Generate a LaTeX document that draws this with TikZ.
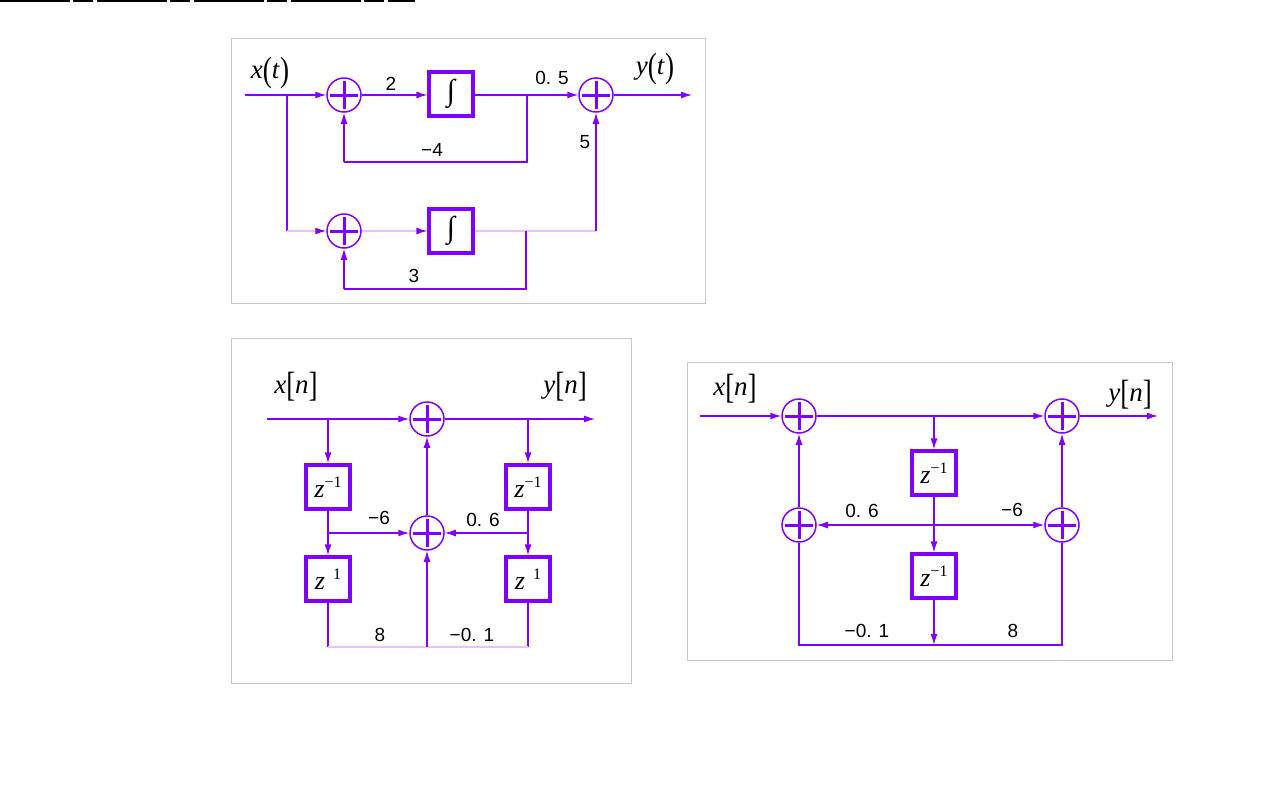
\documentclass[tikz,border=0pt]{standalone}
\usepackage{fontspec}
\setsansfont{Liberation Sans}
\newfontfamily\tms{Liberation Serif}
\usetikzlibrary{arrows.meta}
\definecolor{vio}{RGB}{128,0,255}
\definecolor{faintvio}{RGB}{238,190,255}
\definecolor{framegray}{RGB}{200,200,200}
\newcommand{\intg}{{\tms\fontsize{30}{30}\selectfont ∫}}
\newcommand{\tallbr}[1]{\raisebox{-3pt}{\scalebox{1}[1.3]{#1}}}
\newcommand{\zinv}{\textit{z}\raisebox{10pt}{\fontsize{16}{16}\selectfont −1}}
\newcommand{\zone}{\textit{z}\hspace{8pt}\raisebox{10pt}{\fontsize{16}{16}\selectfont 1}}
\tikzset{
  sig/.style={draw=vio, line width=1.3pt},
  faint/.style={draw=faintvio, line width=1.3pt},
  arr/.style={-{Latex[length=11pt,width=7pt,color=vio]}},
  adder/.style={circle, draw=vio, line width=1.5pt, minimum size=34pt, inner sep=0pt,
    path picture={\draw[vio, line width=3pt] (-14pt,0)--(14pt,0) (0,-14pt)--(0,14pt);}},
  blk/.style={draw=vio, line width=3.2pt, minimum width=44pt, minimum height=44pt, inner sep=0pt},
  num/.style={font=\sffamily\fontsize{19}{19}\selectfont},
  var/.style={font=\tms\fontsize{27}{27}\selectfont},
  zz/.style={font=\tms\fontsize{26}{26}\selectfont},
  panel/.style={draw=framegray, line width=1pt}
}
\begin{document}
\begin{tikzpicture}[x=1pt,y=-1pt]
\useasboundingbox (0,0) rectangle (1280,800);
\draw[black, line width=1.5pt, dash pattern=on 70pt off 3pt on 20pt off 4pt] (0,0.8) -- (415,0.8);
% frames
\draw[panel] (231,39) rectangle (705,303);
\draw[panel] (231,338) rectangle (631,683);
\draw[panel] (687,362) rectangle (1172,660);

% continuous system
\node[adder] (s1) at (344,95) {};
\node[blk] (i1) at (451,94) {\intg};
\node[adder] (s2) at (596,95) {};
\node[adder] (s3) at (344,231) {};
\node[blk] (i2) at (451,231) {\intg};
\coordinate (in1) at (245,95);
\coordinate (b1) at (287,95);
\coordinate (b1d) at (287,231);
\coordinate (f1) at (527,95);
\coordinate (f1d) at (527,162);
\coordinate (f1l) at (344,162);
\coordinate (out1) at (692,95);
\coordinate (g2) at (526,231);
\coordinate (g2d) at (526,289);
\coordinate (g2l) at (344,289);
\coordinate (h2) at (596,231);
\draw[sig] (in1) -- (b1);
\draw[sig,arr] (b1) -- (s1);
\draw[sig,arr] (s1) -- (s1 -| i1.west);
\draw[sig] (s1 -| i1.east) -- (f1);
\draw[sig,arr] (f1) -- (s2);
\draw[sig] (f1) -- (f1d) -- (f1l);
\draw[sig,arr] (f1l) -- (s1);
\draw[sig,arr] (s2) -- (out1);
\draw[sig] (b1) -- (b1d);
\draw[faint,arr] (b1d) -- (s3);
\draw[faint,arr] (s3) -- (i2);
\draw[faint] (i2) -- (h2);
\draw[sig,arr] (h2) -- (s2);
\draw[sig] (g2) -- (g2d) -- (g2l);
\draw[sig,arr] (g2l) -- (s3);
\node[var] (xt) at (270,73) {\textit{x}\tallbr{(}\textit{t}\tallbr{)}};
\node[var] (yt) at (655,69) {\textit{y}\tallbr{(}\textit{t}\tallbr{)}};
\node[num] (k2) at (391,84) {2};
\node[num] (k05) at (552,78) {0. 5};
\node[num] (km4) at (432,150) {−4};
\node[num] (k5) at (585,142) {5};
\node[num] (k3) at (414,276) {3};

% first discrete system
\node[adder] (t1) at (427,419) {};
\node[adder] (t2) at (427,533) {};
\node[blk,zz] (d1) at (328,487) {\zinv};
\node[blk,zz] (d2) at (328,579) {\zone};
\node[blk,zz] (d3) at (528,487) {\zinv};
\node[blk,zz] (d4) at (528,579) {\zone};
\coordinate (in2) at (267,419);
\coordinate (p1) at (328,419);
\coordinate (p2) at (528,419);
\coordinate (out2) at (595,419);
\coordinate (q1) at (328,533);
\coordinate (q2) at (528,533);
\coordinate (r1) at (328,647);
\coordinate (r2) at (528,647);
\coordinate (r0) at (427,647);
\draw[sig] (in2) -- (p1);
\draw[sig,arr] (p1) -- (t1);
\draw[sig,arr] (t1) -- (out2);
\draw[sig,arr] (p1) -- (d1);
\draw[sig,arr] (p2) -- (d3);
\draw[sig] (d1) -- (q1);
\draw[sig,arr] (q1) -- (d2);
\draw[sig,arr] (q1) -- (t2);
\draw[sig] (d3) -- (q2);
\draw[sig,arr] (q2) -- (d4);
\draw[sig,arr] (q2) -- (t2);
\draw[sig,arr] (t2) -- (t1);
\draw[sig] (d2) -- (r1);
\draw[sig] (d4) -- (r2);
\draw[faint] (r1) -- (r2);
\draw[sig,arr] (r0) -- (t2);
\node[var] (xn1) at (296,387) {\textit{x}\tallbr{[}\textit{n}\tallbr{]}};
\node[var] (yn1) at (565,387) {\textit{y}\tallbr{[}\textit{n}\tallbr{]}};
\node[num] (lm6) at (379,518) {−6};
\node[num] (l06) at (483,520) {0. 6};
\node[num] (l8) at (380,635) {8};
\node[num] (lm01) at (472,635) {−0. 1};

% second discrete system
\node[adder] (u1) at (799,416) {};
\node[adder] (u2) at (1062,416) {};
\node[adder] (u3) at (799,525) {};
\node[adder] (u4) at (1062,525) {};
\node[blk,zz] (e1) at (934,473) {\zinv};
\node[blk,zz] (e2) at (934,576) {\zinv};
\coordinate (in3) at (700,416);
\coordinate (c1) at (934,416);
\coordinate (out3) at (1158,416);
\coordinate (c2) at (934,525);
\coordinate (c3) at (934,645);
\coordinate (m1) at (799,645);
\coordinate (m2) at (1062,645);
\draw[sig,arr] (in3) -- (u1);
\draw[sig] (u1) -- (c1);
\draw[sig,arr] (c1) -- (u2);
\draw[sig,arr] (c1) -- (e1);
\draw[sig,arr] (u2) -- (out3);
\draw[sig] (e1) -- (c2);
\draw[sig,arr] (c2) -- (e2);
\draw[sig,arr] (c2) -- (u3);
\draw[sig,arr] (c2) -- (u4);
\draw[sig,arr] (e2) -- (c3);
\draw[sig] (u3) -- (m1) -- (m2) -- (u4);
\draw[sig,arr] (u3) -- (u1);
\draw[sig,arr] (u4) -- (u2);
\node[var] (xn2) at (735,389) {\textit{x}\tallbr{[}\textit{n}\tallbr{]}};
\node[var] (yn2) at (1130,395) {\textit{y}\tallbr{[}\textit{n}\tallbr{]}};
\node[num] (h06) at (862,511) {0. 6};
\node[num] (hm6) at (1012,510) {−6};
\node[num] (hm01) at (867,631) {−0. 1};
\node[num] (h8) at (1013,631) {8};
\end{tikzpicture}
\end{document}
